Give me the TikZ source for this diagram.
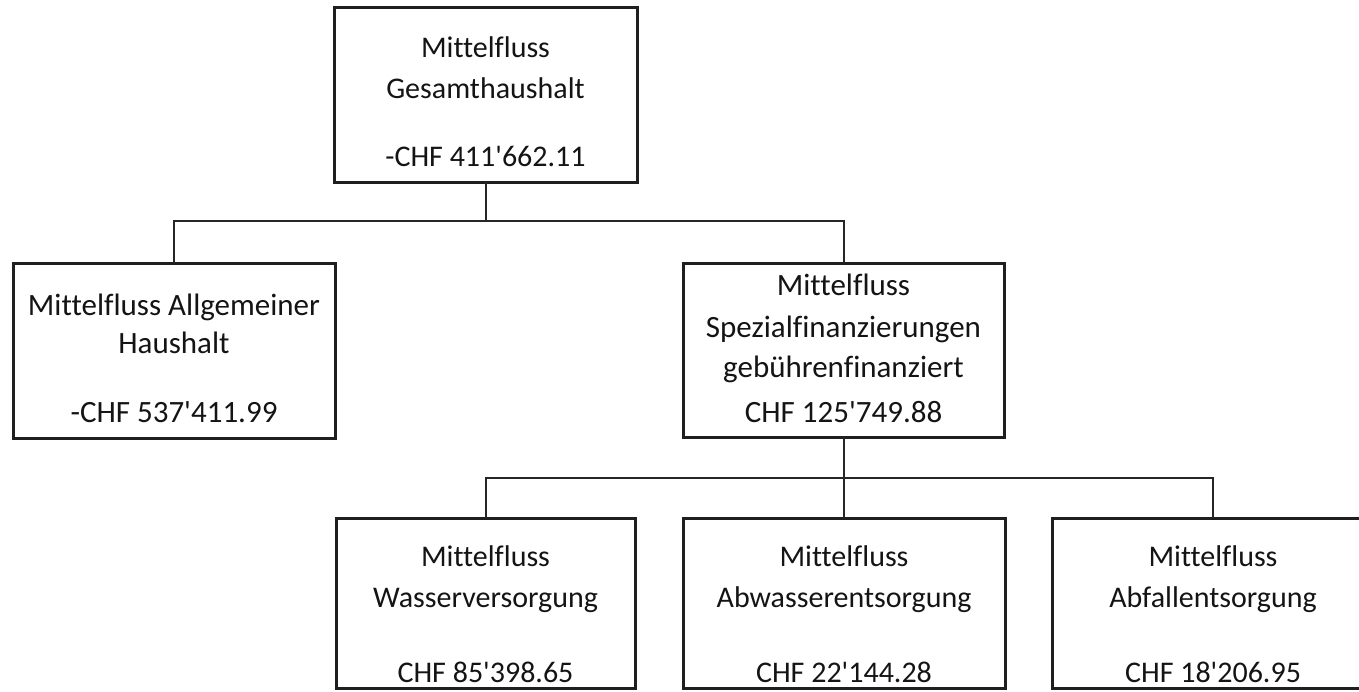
\documentclass[tikz,border=0pt]{standalone}
\usepackage{fontspec}
\setmainfont{Carlito}[Ligatures={TeXOff,CommonOff}]
\begin{document}
\begin{tikzpicture}[x=1pt,y=-1pt,
  box/.style={draw=black!88,line width=3pt,inner sep=0pt,outer sep=0pt,minimum width=#1},
  lbl/.style={anchor=base,inner sep=0pt,text=black!92,font=\fontsize{30}{36}\selectfont},
  lblm/.style={lbl,font=\fontsize{31}{37}\selectfont},
  conn/.style={draw=black!85,line width=2pt}]
\path[use as bounding box] (0,0) rectangle (1359,691);
\clip (0,0) rectangle (1359,691);
% boxes
\node[box=303pt,minimum height=175pt] (top)  at (485.5,94.5) {};
\node[box=322pt,minimum height=175pt] (left) at (174,350.5) {};
\node[box=321pt,minimum height=174pt] (spez) at (843.5,350) {};
\node[box=299pt,minimum height=170pt] (b1)   at (485.5,603) {};
\node[box=322pt,minimum height=170pt] (b2)   at (844,603) {};
\node[box=322pt,minimum height=170pt] (b3)   at (1213,603) {};
% connectors
\coordinate (j1) at (485.5,221);
\coordinate (j2) at (843.5,478);
\draw[conn] (top.south) -- (j1);
\draw[conn] (left.north) |- (j1) -| (spez.north);
\draw[conn] (spez.south) -- (j2);
\draw[conn] (b1.north) |- (j2) -| (b3.north);
\draw[conn] (b2.north) -- (b2.north |- j2);
% texts
\node[lbl] (ta) at (485.5,57.7) {Mittelfluss};
\node[lbl] (tb) at (485.5,98.3) {Gesamthaushalt};
\node[lbl] (tc) at (485.5,166) {-CHF 411'662.11};
\node[lblm] (la) at (174,315) {Mittelfluss Allgemeiner};
\node[lblm] (lb) at (174,353) {Haushalt};
\node[lblm] (lc) at (174,422) {-CHF 537'411.99};
\node[lblm] (sa) at (843.5,295) {Mittelfluss};
\node[lblm] (sb) at (843.5,337) {Spezialfinanzierungen};
\node[lblm] (sc) at (843.5,377) {gebührenfinanziert};
\node[lblm] (sd) at (843.5,422) {CHF 125'749.88};
\node[lbl] (wa) at (485.5,566) {Mittelfluss};
\node[lbl] (wb) at (485.5,607) {Wasserversorgung};
\node[lbl] (wc) at (485.5,682) {CHF 85'398.65};
\node[lbl] (aa) at (844,566) {Mittelfluss};
\node[lbl] (ab) at (844,607) {Abwasserentsorgung};
\node[lbl] (ac) at (844,682) {CHF 22'144.28};
\node[lbl] (fa) at (1213,566) {Mittelfluss};
\node[lbl] (fb) at (1213,607) {Abfallentsorgung};
\node[lbl] (fc) at (1213,682) {CHF 18'206.95};
\end{tikzpicture}
\end{document}
